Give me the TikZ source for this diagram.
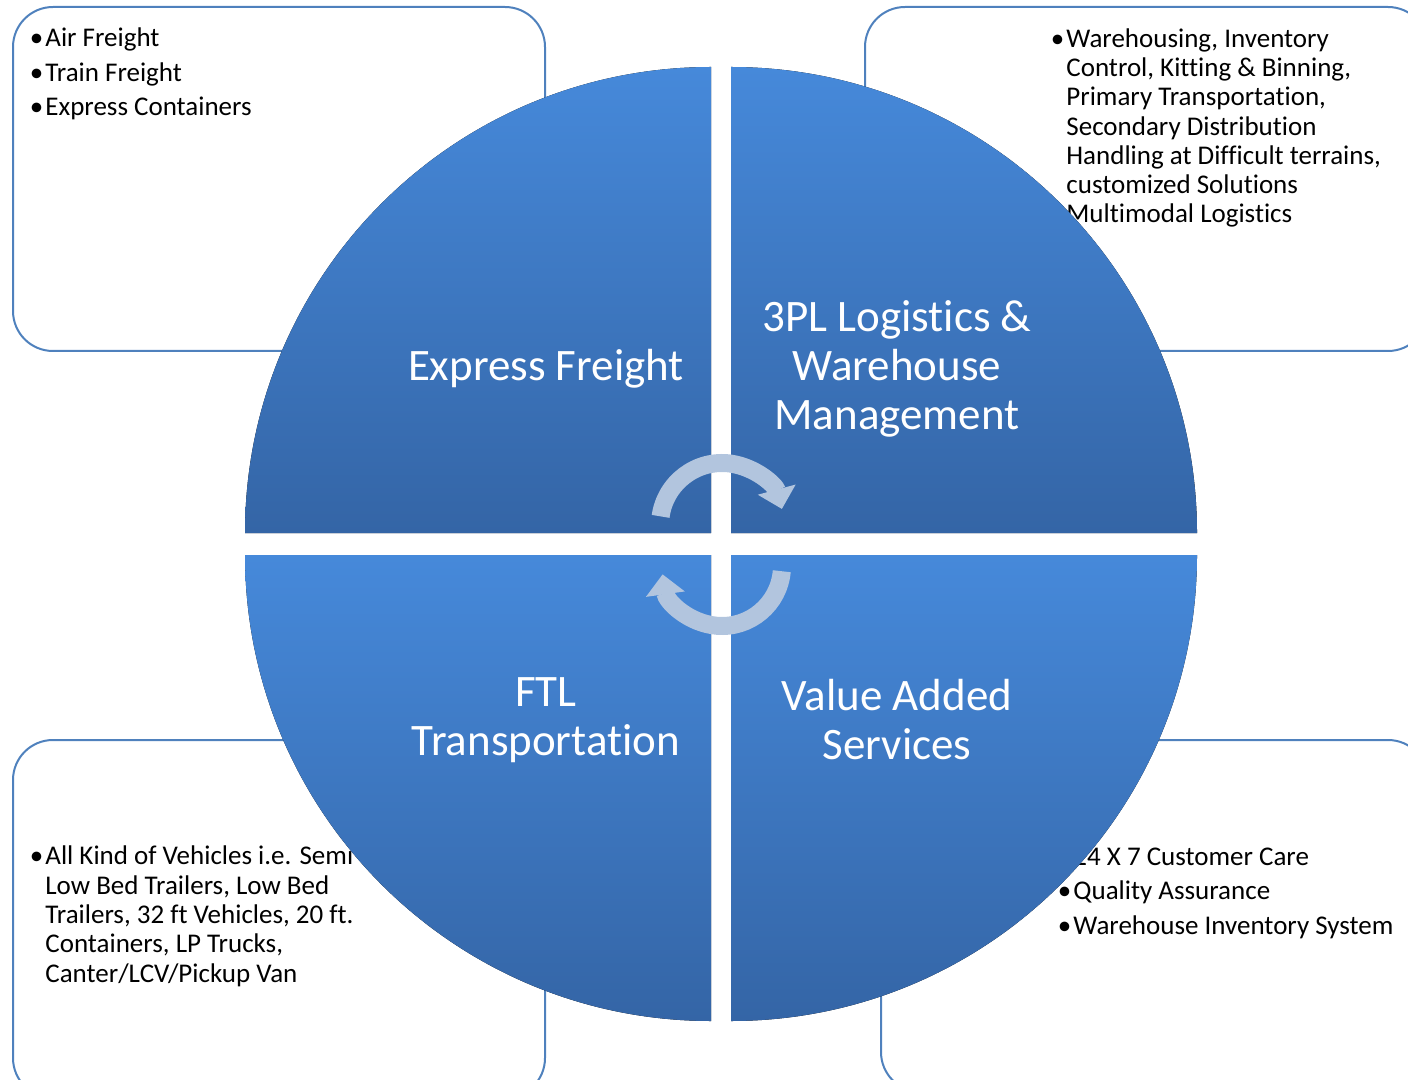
\documentclass[tikz,border=0pt]{standalone}
\usepackage{fontspec}
\setmainfont[Ligatures=NoCommon]{Carlito}
\usetikzlibrary{arrows.meta}

\definecolor{boxline}{RGB}{79,129,189}
\definecolor{pietop}{RGB}{70,137,218}
\definecolor{piebot}{RGB}{52,101,166}
\definecolor{turnfill}{RGB}{178,197,222}

\newcommand{\bul}{\llap{\textbullet\kern1pt}}

\begin{document}
\begin{tikzpicture}[x=0.5pt, y=-0.5pt,
        infobox/.style={draw=boxline, line width=1pt, rounded corners=20pt},
        infotext/.style={anchor=base west, align=left, inner sep=0pt},
        quarter/.style={top color=pietop, bottom color=piebot},
        pielabel/.style={align=center, text=white, font=\fontsize{22.5}{24.5}\selectfont},
        turn/.style={line width=9pt, turnfill, -{Triangle[width=19pt,length=10pt]}}]
            \clip (0,0) rectangle (1408,1080);

            % boxes behind the pie (text nodes placed on their last baseline)
            \draw[infobox] (13,7) rectangle (545,351);
            \draw[infobox] (865,7) rectangle (1428,351);
            \draw[infobox] (13,740) rectangle (545,1098);
            \draw[infobox] (881,740) rectangle (1428,1092);

            \node[infotext, font=\fontsize{13.5}{17.25}\selectfont] (airlist) at (45,116)
                {\bul Air Freight\\\bul Train Freight\\\bul Express Containers};
            \node[infotext, font=\fontsize{13.5}{14.65}\selectfont] (storelist) at (1066,223)
                {\bul Warehousing, Inventory\\Control, Kitting \& Binning,\\Primary Transportation,\\Secondary Distribution\\Handling at Difficult terrains,\\customized Solutions\\Multimodal Logistics};
            \node[infotext, font=\fontsize{13.5}{14.65}\selectfont] (trucklist) at (45,982)
                {\bul All Kind of Vehicles i.e. Semi\\Low Bed Trailers, Low Bed\\Trailers, 32 ft Vehicles, 20 ft.\\Containers, LP Trucks,\\Canter/LCV/Pickup Van};
            \node[infotext, font=\fontsize{13.5}{17.25}\selectfont] (carelist) at (1073,934)
                {\bul 24 X 7 Customer Care\\\bul Quality Assurance\\\bul Warehouse Inventory System};

            % the four quarters
            \foreach \cx/\cy/\a in {711/533/180, 731/533/270, 711/555/90, 731/555/0} {
                \fill[quarter] (\cx,\cy) -- ++(\a:466) arc[start angle=\a, delta angle=90, radius=466] -- cycle;
            }

            \node[pielabel] (express) at (546,369) {Express Freight};
            \node[pielabel] (threepl) at (897,369) {3PL Logistics \&\\Warehouse\\Management};
            \node[pielabel] (ftl) at (546,720) {FTL\\Transportation};
            \node[pielabel] (valueadd) at (897,720) {Value Added\\Services};

            % turning arrows
            \draw[turn] (722,525) ++(188:62) arc[start angle=188, end angle=345, radius=62];
            \draw[turn] (722,566) ++(5:60) arc[start angle=5, end angle=172, radius=60];
        \end{tikzpicture}
\end{document}
